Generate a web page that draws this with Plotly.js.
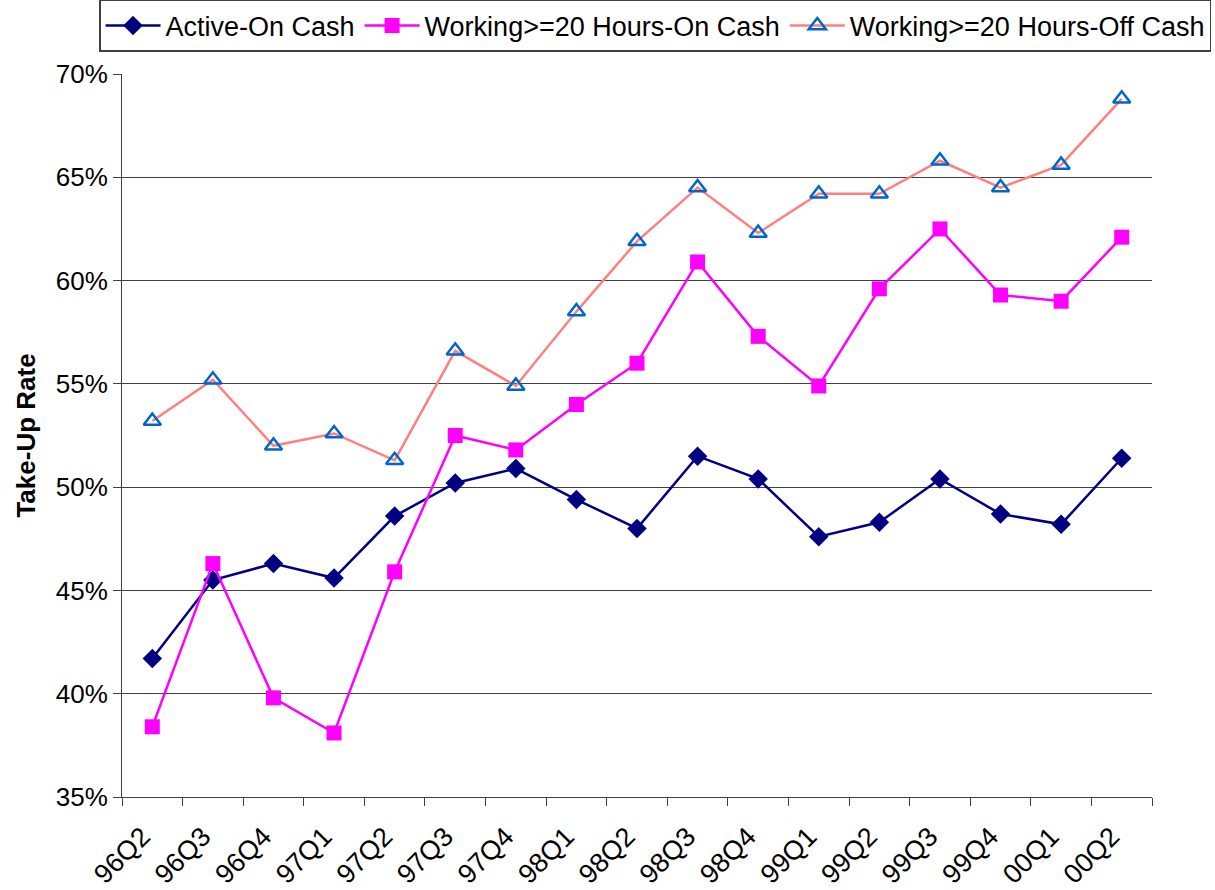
<!DOCTYPE html>
<html>
<head>
<meta charset="utf-8">
<script src="https://cdn.plot.ly/plotly-3.0.1.min.js"></script>
<style>html,body{margin:0;padding:0;background:#fff;}#chart{width:1215px;height:890px;}</style>
</head>
<body>
<div id="chart"></div>
<script>
const quarters = ["96Q2","96Q3","96Q4","97Q1","97Q2","97Q3","97Q4","98Q1","98Q2","98Q3","98Q4","99Q1","99Q2","99Q3","99Q4","00Q1","00Q2"];
const activeOnCash = [41.7,45.5,46.3,45.6,48.6,50.2,50.9,49.4,48.0,51.5,50.4,47.6,48.3,50.4,48.7,48.2,51.4];
const workingOnCash = [38.4,46.3,39.8,38.1,45.9,52.5,51.8,54.0,56.0,60.9,57.3,54.9,59.6,62.5,59.3,59.0,62.1];
const workingOffCash = [53.2,55.2,52.0,52.6,51.3,56.6,54.9,58.5,61.9,64.5,62.3,64.2,64.2,65.8,64.5,65.6,68.8];
const seriesNames = ["Active-On Cash","Working>=20 Hours-On Cash","Working>=20 Hours-Off Cash"];
const yTicks = [35,40,45,50,55,60,65,70];

const font = "Liberation Sans, Arial, sans-serif";
const traces = [
  {x: quarters, y: activeOnCash, name: seriesNames[0], type: "scatter", mode: "lines+markers",
   line: {color: "#000080", width: 2.5}, marker: {symbol: "diamond", size: 15, color: "#000080"}},
  {x: quarters, y: workingOnCash, name: seriesNames[1], type: "scatter", mode: "lines+markers",
   line: {color: "#FF00FF", width: 2.5}, marker: {symbol: "square", size: 15, color: "#FF00FF"}},
  {x: quarters, y: workingOffCash, name: seriesNames[2], type: "scatter", mode: "lines+markers",
   line: {color: "#FF8080", width: 2.5}, marker: {symbol: "triangle-up-open", size: 15, color: "#0066CC", line: {color: "#0066CC", width: 2.5}}}
];
const layout = {
  width: 1215, height: 890,
  margin: {l: 122, r: 63, t: 74, b: 93, autoexpand: false},
  paper_bgcolor: "#fff", plot_bgcolor: "#fff",
  font: {family: font, size: 26, color: "#000"},
  showlegend: true,
  legend: {orientation: "h", x: -0.0223, y: 1.1025, xanchor: "left", yanchor: "top",
           bordercolor: "#404040", borderwidth: 1.5, font: {size: 27, family: font}, bgcolor: "#fff",
           tracegroupgap: 0, itemwidth: 55},
  xaxis: {type: "category", tickson: "boundaries", ticks: "outside", ticklen: 8, tickcolor: "#404040",
          tickangle: -45, showgrid: false, showline: true, linecolor: "#404040", linewidth: 1,
          ticklabelstandoff: 12, ticklabelshift: -10,
          tickfont: {size: 27, family: font}, range: [-0.5, 16.5], fixedrange: true},
  yaxis: {range: [35, 70], tickvals: yTicks, ticktext: yTicks.map(v => v + "%"), ticks: "outside", ticklen: 8,
          tickcolor: "#404040", showgrid: true, gridcolor: "#404040", gridwidth: 1, showline: true,
          linecolor: "#404040", linewidth: 1, zeroline: false, tickfont: {size: 26, family: font},
          title: {text: "<b>Take-Up Rate</b>", font: {size: 26, family: font}, standoff: 12}}
};
Plotly.newPlot("chart", traces, layout, {displayModeBar: false, staticPlot: true});
</script>
</body>
</html>
